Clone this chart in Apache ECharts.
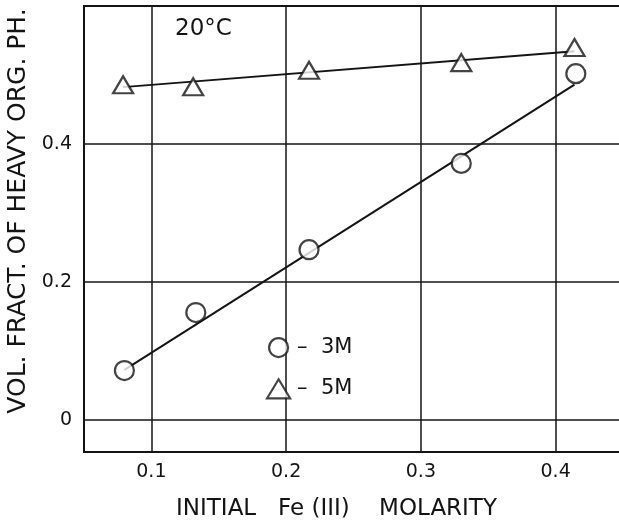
<!DOCTYPE html>
<html>
<head>
<meta charset="utf-8">
<title>Volume fraction of heavy organic phase</title>
<script src="https://cdn.jsdelivr.net/npm/echarts@6/dist/echarts.min.js"></script>
<style>
  html, body { margin: 0; padding: 0; background: #fff; }
  #chart { width: 619px; height: 521px; }
</style>
</head>
<body>
<div id="chart"></div>
<script>
// data
const molarity3M = [0.080, 0.133, 0.217, 0.330, 0.415];
const fraction3M = [0.072, 0.156, 0.247, 0.372, 0.502];
const molarity5M = [0.079, 0.131, 0.217, 0.330, 0.414];
const fraction5M = [0.486, 0.483, 0.507, 0.518, 0.540];
// drawn straight lines (end points)
const fit3M = [[0.080, 0.073], [0.414, 0.486]];
const fit5M = [[0.079, 0.4825], [0.414, 0.5345]];
const xTicks = [0.1, 0.2, 0.3, 0.4];
const yTicks = [0, 0.2, 0.4];

const ink = '#141414';
const font = 'DejaVu Sans';

const markerStyle = {
  color: '#fff',
  borderColor: ink,
  borderWidth: 2.2
};

const zip = (xs, ys) => xs.map((x, i) => [x, ys[i]]);

const chart = echarts.init(document.getElementById('chart'), null, {renderer: 'canvas'});

chart.setOption({
  backgroundColor: '#fff',
  animation: false,
  textStyle: {fontFamily: font, color: ink},
  title: {
    text: '20°C',
    left: 170,
    top: 13,
    textStyle: {fontFamily: font, fontSize: 23, fontWeight: 'normal', color: ink}
  },
  grid: {
    left: 84,
    right: -4,
    top: 6,
    bottom: 69,
    outerBoundsMode: 'none',
    containLabel: false,
    show: true,
    borderColor: ink,
    borderWidth: 2,
    backgroundColor: 'transparent'
  },
  legend: {
    orient: 'vertical',
    left: 261,
    top: 332,
    itemWidth: 23,
    itemHeight: 19,
    itemGap: 20,
    selectedMode: false,
    formatter: name => '–  ' + name,
    itemStyle: markerStyle,
    textStyle: {fontFamily: font, fontSize: 21, color: ink, padding: [0, 0, 0, 2]},
    data: [
      {name: '3M', icon: 'circle', itemStyle: markerStyle},
      {name: '5M', icon: 'triangle', itemStyle: markerStyle}
    ]
  },
  xAxis: {
    type: 'value',
    min: 0.05,
    max: 0.45,
    name: 'INITIAL   Fe (III)    MOLARITY',
    nameLocation: 'middle',
    nameGap: 46,
    nameTextStyle: {fontFamily: font, fontSize: 23, color: ink, padding: [0, 34, 0, 0]},
    axisLine: {show: false},
    axisTick: {show: false, customValues: xTicks},
    axisLabel: {
      customValues: xTicks,
      margin: 11,
      fontSize: 19,
      color: ink,
      fontFamily: font
    },
    splitLine: {show: true, lineStyle: {color: ink, width: 1.5}}
  },
  yAxis: {
    type: 'value',
    min: -0.046,
    max: 0.6,
    name: 'VOL. FRACT. OF HEAVY ORG. PH.',
    nameLocation: 'middle',
    nameGap: 47,
    nameRotate: 90,
    nameTextStyle: {fontFamily: font, fontSize: 25, color: ink, padding: [0, 0, 0, 36]},
    axisLine: {show: false},
    axisTick: {show: false, customValues: yTicks},
    axisLabel: {
      customValues: yTicks,
      margin: 12,
      fontSize: 19,
      color: ink,
      fontFamily: font
    },
    splitLine: {show: true, lineStyle: {color: ink, width: 1.5}}
  },
  series: [
    {
      name: 'fit 3M',
      type: 'line',
      data: fit3M,
      symbol: 'none',
      silent: true,
      z: 2,
      lineStyle: {color: ink, width: 2}
    },
    {
      name: 'fit 5M',
      type: 'line',
      data: fit5M,
      symbol: 'none',
      silent: true,
      z: 2,
      lineStyle: {color: ink, width: 2}
    },
    {
      name: '3M',
      type: 'scatter',
      data: zip(molarity3M, fraction3M),
      symbol: 'circle',
      symbolSize: 19,
      z: 3,
      itemStyle: markerStyle
    },
    {
      name: '5M',
      type: 'scatter',
      data: zip(molarity5M, fraction5M),
      symbol: 'triangle',
      symbolSize: [20, 17],
      z: 3,
      itemStyle: markerStyle
    }
  ]
});
</script>
</body>
</html>
